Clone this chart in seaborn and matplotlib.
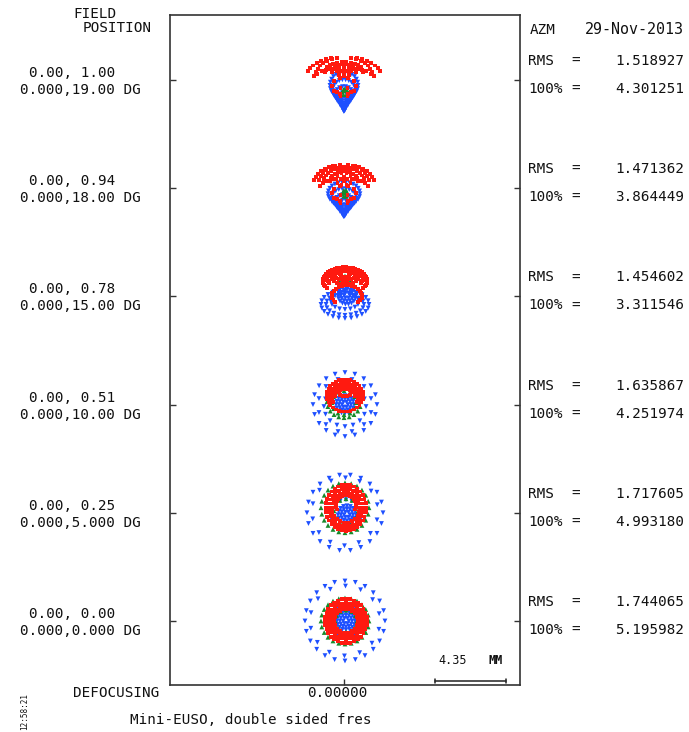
import numpy as np
import pandas as pd
import matplotlib
matplotlib.use("Agg")
import matplotlib.pyplot as plt
import seaborn as sns

# ---------------- data (spot rings, mm, relative to each field's chief ray) ----
# each ring: (cx, cy, rx, ry, n_points, start_deg, end_deg)
FIELD_LINE1 = ["0.00, 1.00", "0.00, 0.94", "0.00, 0.78", "0.00, 0.51", "0.00, 0.25", "0.00, 0.00"]
FIELD_LINE2 = ["0.000,19.00 DG", "0.000,18.00 DG", "0.000,15.00 DG", "0.000,10.00 DG",
               "0.000,5.000 DG", "0.000,0.000 DG"]
RMS_VALUES = ["1.518927", "1.471362", "1.454602", "1.635867", "1.717605", "1.744065"]
FULL_VALUES = ["4.301251", "3.864449", "3.311546", "4.251974", "4.993180", "5.195982"]
SCALE_MM = 4.35

SPOT1_BLUE = [(0, -0.33, 0.86, 0.82, 26, 0, 360), (0, -0.64, 0.70, 0.66, 22, 0, 360),
              (0, -0.92, 0.55, 0.52, 18, 0, 360), (0, -1.16, 0.40, 0.40, 14, 0, 360),
              (0, -1.37, 0.29, 0.29, 10, 0, 360), (0, -1.70, 0.13, 0.13, 6, 0, 360),
              (0, -1.90, 0.03, 0.03, 3, 0, 360)]
SPOT1_GREEN = [(0.06, -0.74, 0.18, 0.18, 6, 0, 360), (0.06, -0.61, 0.06, 0.06, 3, 0, 360)]
SPOT1_RED = [(0, 0.25, 2.27, 1.16, 7, 15, 70), (0, 0.25, 2.27, 1.16, 7, 110, 165),
             (0, 0.31, 1.72, 1.10, 7, 10, 75), (0, 0.31, 1.72, 1.10, 7, 105, 170),
             (0, 0.12, 1.84, 0.61, 4, 10, 60), (0, 0.12, 1.84, 0.61, 4, 120, 170),
             (0, 0.49, 1.16, 0.61, 14, 0, 180), (0, 0.49, 0.74, 0.49, 10, 0, 180),
             (0, 0.55, 0.43, 0.31, 8, 0, 360), (0, 0.55, 0.18, 0.12, 4, 0, 360),
             (0, -0.37, 0.74, 0.49, 10, 0, 360), (0, -0.74, 0.43, 0.31, 6, 0, 360)]

SPOT2_BLUE = [(0, -0.34, 0.98, 0.72, 26, 0, 360), (0, -0.61, 0.77, 0.58, 22, 0, 360),
              (0, -0.86, 0.58, 0.46, 18, 0, 360), (0, -1.07, 0.43, 0.35, 14, 0, 360),
              (0, -1.26, 0.31, 0.26, 10, 0, 360), (0, -1.55, 0.14, 0.12, 6, 0, 360),
              (0, -1.72, 0.03, 0.03, 3, 0, 360)]
SPOT2_GREEN = [(0.06, -0.31, 0.15, 0.21, 6, 0, 360), (0.06, -0.25, 0.06, 0.06, 3, 0, 360)]
SPOT2_RED = [(0, 0.18, 1.90, 1.29, 7, 15, 70), (0, 0.18, 1.90, 1.29, 7, 110, 165),
             (0, 0.31, 1.53, 1.16, 7, 10, 80), (0, 0.31, 1.53, 1.16, 7, 100, 170),
             (0, 0.06, 1.47, 0.55, 4, 10, 60), (0, 0.06, 1.47, 0.55, 4, 120, 170),
             (0, 0.43, 1.23, 0.86, 16, 0, 180), (0, 0.43, 0.86, 0.61, 12, 0, 180),
             (0, 0.55, 0.49, 0.37, 10, 0, 360), (0, 0.55, 0.18, 0.12, 4, 0, 360),
             (0, -0.31, 0.74, 0.49, 10, 0, 360), (0, -0.67, 0.43, 0.31, 6, 0, 360)]

SPOT3_BLUE = [(0.18, 0.06, 0.55, 0.55, 18, 0, 360), (0.18, 0.06, 0.37, 0.37, 12, 0, 360),
              (0.18, 0.06, 0.18, 0.18, 6, 0, 360), (0.06, -0.49, 1.47, 0.86, 24, 0, 360),
              (0.06, -0.49, 1.16, 0.67, 20, 0, 360), (0.06, -0.31, 0.86, 0.49, 16, 0, 360)]
SPOT3_GREEN = [(0.06, 1.00, 0.40, 0.25, 8, 0, 360)]
SPOT3_RED = [(0.06, 0.98, 1.35, 0.80, 32, -35, 215), (0.06, 1.10, 1.10, 0.61, 26, -25, 205),
             (0.06, 1.23, 0.86, 0.49, 20, 0, 360), (0.06, 1.29, 0.61, 0.31, 14, 0, 360),
             (0.06, 1.35, 0.31, 0.18, 8, 0, 360), (0.18, 0.06, 0.92, 0.61, 20, -40, 220)]

SPOT4_BLUE = [(0.06, 0.00, 1.96, 1.96, 20, 0, 360), (0.06, -0.06, 1.65, 1.65, 12, 15, 375),
              (0.06, -0.12, 1.29, 1.23, 16, 0, 360), (0.06, 0.00, 0.55, 0.55, 16, 0, 360),
              (0.06, 0.00, 0.37, 0.37, 12, 0, 360), (0.06, 0.00, 0.18, 0.18, 6, 0, 360)]
SPOT4_GREEN = [(0.00, 0.18, 1.04, 0.98, 20, 0, 360), (0.00, 0.12, 0.74, 0.74, 12, 0, 360)]
SPOT4_RED = [(0.06, 0.55, 1.10, 0.98, 30, 0, 360), (0.06, 0.55, 0.86, 0.74, 24, -30, 210),
             (0.06, 0.61, 0.61, 0.49, 18, -10, 190), (0.06, 0.74, 0.37, 0.25, 10, 0, 360)]

SPOT5_BLUE = [(0.06, 0.00, 2.33, 2.33, 22, 0, 360), (0.06, 0.06, 2.02, 2.08, 14, 12, 372),
              (0.12, -0.12, 0.92, 0.92, 16, 0, 360), (0.18, -0.12, 0.55, 0.55, 16, 0, 360),
              (0.18, -0.12, 0.37, 0.37, 12, 0, 360), (0.18, -0.12, 0.18, 0.18, 6, 0, 360)]
SPOT5_GREEN = [(0.06, 0.31, 1.47, 1.53, 24, 0, 360), (0.12, 0.12, 0.74, 0.74, 12, 0, 360)]
SPOT5_RED = [(0.12, 0.31, 1.23, 1.41, 32, 0, 360), (0.12, 0.31, 1.04, 1.16, 28, 0, 360),
             (0.12, 0.31, 0.86, 0.92, 22, 0, 360), (0.12, 0.43, 0.61, 0.67, 16, -20, 200)]

SPOT6_BLUE = [(0.06, 0.00, 2.45, 2.45, 24, 0, 360), (0.06, 0.00, 2.14, 2.14, 14, 12, 372),
              (0.12, 0.00, 0.98, 0.98, 18, 0, 360), (0.12, 0.00, 0.55, 0.55, 16, 0, 360),
              (0.12, 0.00, 0.37, 0.37, 12, 0, 360), (0.12, 0.00, 0.18, 0.18, 6, 0, 360)]
SPOT6_GREEN = [(0.06, 0.00, 1.47, 1.41, 24, 0, 360), (0.12, 0.00, 0.67, 0.67, 12, 0, 360)]
SPOT6_RED = [(0.12, 0.00, 1.29, 1.35, 32, 0, 360), (0.12, 0.00, 1.10, 1.10, 28, 0, 360),
             (0.12, 0.00, 0.92, 0.92, 22, 0, 360), (0.12, 0.00, 0.74, 0.74, 18, 0, 360)]

SPOTS = [
    (SPOT1_BLUE, SPOT1_GREEN, SPOT1_RED),
    (SPOT2_BLUE, SPOT2_GREEN, SPOT2_RED),
    (SPOT3_BLUE, SPOT3_GREEN, SPOT3_RED),
    (SPOT4_BLUE, SPOT4_GREEN, SPOT4_RED),
    (SPOT5_BLUE, SPOT5_GREEN, SPOT5_RED),
    (SPOT6_BLUE, SPOT6_GREEN, SPOT6_RED),
]

# ---------------- layout -------------------------------------------------------
W, H, DPI = 689, 732, 100
PX_PER_MM = 71 / SCALE_MM
ROW_PITCH = 108.2 / PX_PER_MM


def ring_points(cx, cy, rx, ry, n, a0, a1):
    full = (a1 - a0) >= 360
    t = np.deg2rad(np.linspace(a0, a1, n, endpoint=not full))
    return cx + rx * np.cos(t), cy + ry * np.sin(t)


WAVES = ["blue", "green", "red"]
rows = []
for wi, wave in enumerate(WAVES):
    for k, spot in enumerate(SPOTS):
        for ring in spot[wi]:
            xs, ys = ring_points(*ring)
            for x, y in zip(xs, ys):
                rows.append({"x": x, "y": y - k * ROW_PITCH, "wave": wave})
df = pd.DataFrame(rows)

sns.set_theme(style="white")
plt.rcParams["font.family"] = ["DejaVu Sans Mono"]

fig = plt.figure(figsize=(W / DPI, H / DPI), dpi=DPI)
ax = fig.add_axes([170 / W, 1 - 685 / H, 350 / W, 670 / H])

sns.scatterplot(data=df, x="x", y="y", hue="wave", style="wave", size="wave",
                hue_order=WAVES,
                palette={"blue": "#1e50ff", "green": "#188a2a", "red": "#ff1a10"},
                markers={"blue": "v", "green": "^", "red": "s"},
                sizes={"blue": 12, "green": 12, "red": 8},
                linewidth=0, legend=False, ax=ax)

x0 = -(344 - 170) / PX_PER_MM
x1 = (520 - 344) / PX_PER_MM
ytop = 65 / PX_PER_MM
ybot = -(5 * ROW_PITCH + 64 / PX_PER_MM)
ax.set_xlim(x0, x1)
ax.set_ylim(ybot, ytop)
ax.set_xticks([0])
ax.set_yticks([-k * ROW_PITCH for k in range(6)])
ax.tick_params(direction="in", length=4.5, width=1.0, color="#333333",
               left=True, right=True, bottom=True, top=False,
               labelleft=False, labelbottom=False)
ax.set_xlabel("")
ax.set_ylabel("")
for s in ax.spines.values():
    s.set_color("#333333")
    s.set_linewidth(1.2)

# scale bar
bx0 = (435 - 344) / PX_PER_MM
by = ytop - (681 - 15) / PX_PER_MM
ax.plot([bx0, bx0 + SCALE_MM], [by, by], color="#222222", lw=1.1)
for bx in (bx0, bx0 + SCALE_MM):
    ax.plot([bx, bx], [by - 0.12, by + 0.12], color="#222222", lw=1.1)


def ftext(x, y, s, ha="left", size=10.3, **kw):
    fig.text(x / W, 1 - y / H, s, ha=ha, va="center", fontsize=size, color="#111111", **kw)


ftext(73, 14, "FIELD")
ftext(83, 28, "POSITION")
for k in range(6):
    ty = 80 + k * 108.2
    ftext(29, ty - 7, FIELD_LINE1[k])
    ftext(20, ty + 10, FIELD_LINE2[k])
    ftext(528, ty - 19, "RMS")
    ftext(571, ty - 19, "=")
    ftext(684, ty - 19, RMS_VALUES[k], ha="right")
    ftext(528, ty + 9, "100%")
    ftext(571, ty + 9, "=")
    ftext(684, ty + 9, FULL_VALUES[k], ha="right")

ftext(530, 30, "AZM")
ftext(684, 30, "29-Nov-2013", ha="right", size=10.8)
ftext(438, 661, f"{SCALE_MM:.2f}", size=8.5)
ftext(488, 661, "MM", size=8.5, fontweight="bold")
ftext(73, 693, "DEFOCUSING")
ftext(337, 693, "0.00000", ha="center")
ftext(130, 720, "Mini-EUSO, double sided fres")
fig.text(25 / W, 1 - 712 / H, "12:58:21", rotation=90, ha="center", va="center",
         fontsize=5.5, color="#111111")

fig.savefig("out.png", dpi=DPI)
